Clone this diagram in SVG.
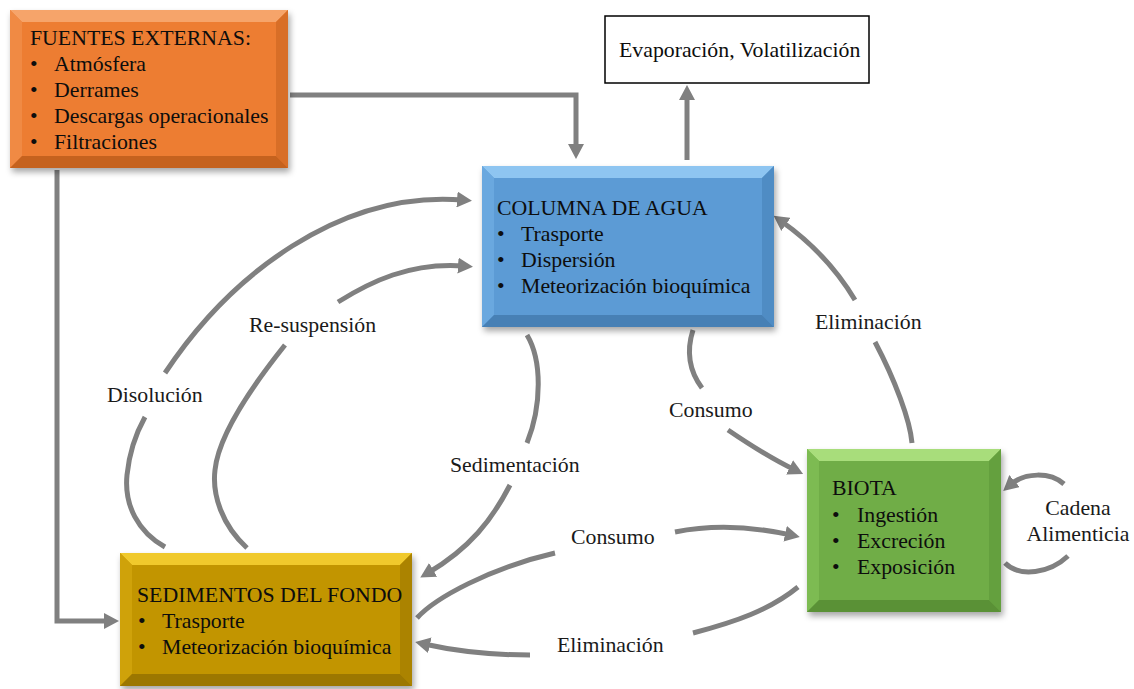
<svg xmlns="http://www.w3.org/2000/svg" width="1134" height="689" viewBox="0 0 1134 689">
<style>
text{font-family:"Liberation Serif","Times New Roman",serif;font-size:21.8px;fill:#0d0d0d;}
.lbl{fill:#1a1a1a;}
.c{fill:none;stroke:#808080;stroke-width:5;}
.a{marker-end:url(#ah);}
.o0{fill:#ED7D31}.o1{fill:#F6A46A}.o2{fill:#F08A44}.o3{fill:#D86E27}.o4{fill:#C5621E}
.b0{fill:#5B9BD5}.b1{fill:#8EC5F1}.b2{fill:#6AA8DF}.b3{fill:#4F8CC4}.b4{fill:#4780B5}
.g0{fill:#C29500}.g1{fill:#F0C92C}.g2{fill:#CFA20A}.g3{fill:#AB8300}.g4{fill:#9C7700}
.n0{fill:#70AD47}.n1{fill:#A8DD7B}.n2{fill:#7DBB52}.n3{fill:#64A03E}.n4{fill:#5A9136}
</style>
<defs>
<marker id="ah" markerUnits="userSpaceOnUse" markerWidth="16" markerHeight="16" viewBox="0 0 16 16" refX="6" refY="8" orient="auto">
<path d="M0,0 L15,8 L0,16 z" fill="#808080"/>
</marker>
<filter id="sh" x="-10%" y="-10%" width="125%" height="130%">
<feDropShadow dx="2" dy="4" stdDeviation="3" flood-color="#000" flood-opacity="0.35"/>
</filter>
</defs>
<rect width="1134" height="689" fill="#fff"/>

<g id="connectors">
<path class="c a" d="M290,95 H576 V150"/>
<path class="c a" d="M57,170 V621 H110"/>
<path class="c a" d="M687,160 V94"/>
<path class="c" d="M165,547 C138,532 124,505 127,475 C129,455 135,435 145,417"/>
<path class="c a" d="M165,373 C230,275 340,190 463,200"/>
<path class="c" d="M247,548 C222,525 212,495 215,470 C218,440 245,395 285,345"/>
<path class="c a" d="M338,302 C370,282 410,262 464,266"/>
<path class="c" d="M527,335 C542,360 542,405 527,443"/>
<path class="c a" d="M510,485 C492,520 470,548 428,573"/>
<path class="c" d="M693,330 C686,352 690,372 702,388"/>
<path class="c a" d="M728,430 C750,445 770,458 795,470"/>
<path class="c" d="M912,443 C910,420 895,380 875,342"/>
<path class="c a" d="M855,300 C840,275 815,245 781,221"/>
<path class="c" d="M417,618 C435,598 490,568 555,553"/>
<path class="c a" d="M675,532 C710,525 750,526 791,535"/>
<path class="c" d="M798,587 C770,610 735,622 693,633"/>
<path class="c a" d="M530,655 C495,655 460,652 424,644"/>
<path class="c a" d="M1064,484 C1050,472 1025,472 1010,485"/>
<path class="c" d="M1005,563 C1020,578 1050,573 1068,556"/>
<text class="lbl" x="107" y="402">Disolución</text>
<text class="lbl" x="249" y="332">Re-suspensión</text>
<text class="lbl" x="450" y="472">Sedimentación</text>
<text class="lbl" x="669" y="417">Consumo</text>
<text class="lbl" x="815" y="329">Eliminación</text>
<text class="lbl" x="571" y="544">Consumo</text>
<text class="lbl" x="557" y="652">Eliminación</text>
<text class="lbl" x="1078" y="515" text-anchor="middle">Cadena</text>
<text class="lbl" x="1078" y="541" text-anchor="middle">Alimenticia</text>
</g>

<g id="fuentes">
<g filter="url(#sh)">
<rect class="o0" x="10" y="10" width="278" height="158"/>
</g>
<polygon class="o1" points="10,10 288,10 276,22 22,22"/>
<polygon class="o2" points="10,10 22,22 22,156 10,168"/>
<polygon class="o3" points="288,10 288,168 276,156 276,22"/>
<polygon class="o4" points="10,168 22,156 276,156 288,168"/>
<text x="30" y="45">FUENTES EXTERNAS:</text>
<text x="30" y="71">•</text><text x="54" y="71">Atmósfera</text>
<text x="30" y="97">•</text><text x="54" y="97">Derrames</text>
<text x="30" y="123">•</text><text x="54" y="123">Descargas operacionales</text>
<text x="30" y="149">•</text><text x="54" y="149">Filtraciones</text>
</g>

<g id="evaporacion">
<rect x="605" y="16" width="264" height="67" fill="#fff" stroke="#000" stroke-width="1.5"/>
<text x="619" y="57">Evaporación, Volatilización</text>
</g>

<g id="columna">
<g filter="url(#sh)">
<rect class="b0" x="482" y="166" width="292" height="161"/>
</g>
<polygon class="b1" points="482,166 774,166 762,178 494,178"/>
<polygon class="b2" points="482,166 494,178 494,315 482,327"/>
<polygon class="b3" points="774,166 774,327 762,315 762,178"/>
<polygon class="b4" points="482,327 494,315 762,315 774,327"/>
<text x="497" y="215">COLUMNA DE AGUA</text>
<text x="497" y="241">•</text><text x="521" y="241">Trasporte</text>
<text x="497" y="267">•</text><text x="521" y="267">Dispersión</text>
<text x="497" y="293">•</text><text x="521" y="293">Meteorización bioquímica</text>
</g>

<g id="sedimentos">
<g filter="url(#sh)">
<rect class="g0" x="120" y="553" width="292" height="133"/>
</g>
<polygon class="g1" points="120,553 412,553 400,565 132,565"/>
<polygon class="g2" points="120,553 132,565 132,674 120,686"/>
<polygon class="g3" points="412,553 412,686 400,674 400,565"/>
<polygon class="g4" points="120,686 132,674 400,674 412,686"/>
<text x="137" y="602">SEDIMENTOS DEL FONDO</text>
<text x="138" y="628">•</text><text x="162" y="628">Trasporte</text>
<text x="138" y="654">•</text><text x="162" y="654">Meteorización bioquímica</text>
</g>

<g id="biota">
<g filter="url(#sh)">
<rect class="n0" x="807" y="449" width="194" height="163"/>
</g>
<polygon class="n1" points="807,449 1001,449 989,461 819,461"/>
<polygon class="n2" points="807,449 819,461 819,600 807,612"/>
<polygon class="n3" points="1001,449 1001,612 989,600 989,461"/>
<polygon class="n4" points="807,612 819,600 989,600 1001,612"/>
<text x="832" y="495">BIOTA</text>
<text x="832" y="522">•</text><text x="857" y="522">Ingestión</text>
<text x="832" y="548">•</text><text x="857" y="548">Excreción</text>
<text x="832" y="574">•</text><text x="857" y="574">Exposición</text>
</g>
</svg>
